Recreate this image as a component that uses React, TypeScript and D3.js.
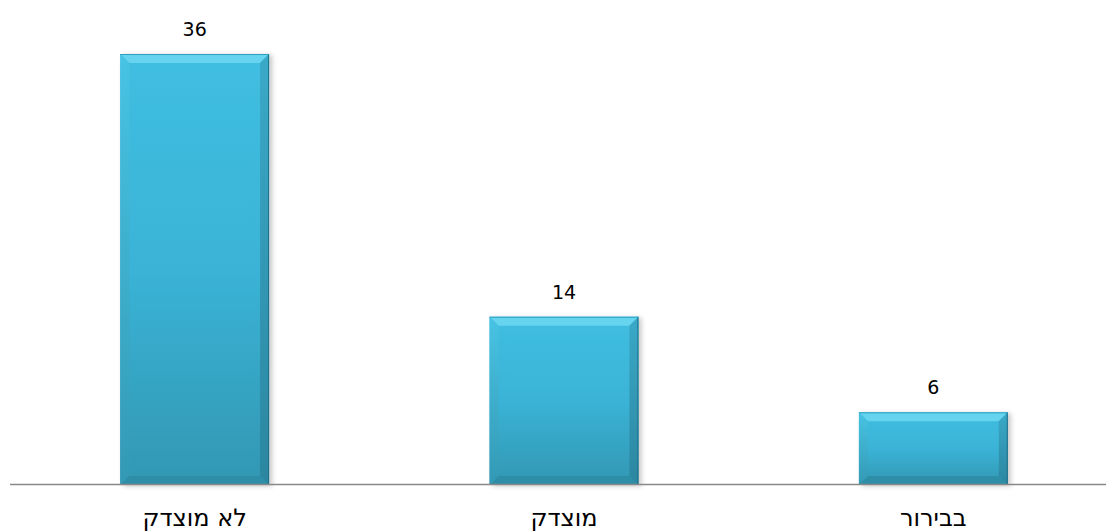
import React from "react";
import * as d3 from "d3";

const categories = ["לא מוצדק", "מוצדק", "בבירור"];
const values = [36, 14, 6];

const W = 1106;
const H = 532;

export default function App() {
  const x = d3.scaleBand<string>().domain(categories).range([10, 1118]).padding(0);
  const y = d3.scaleLinear().domain([0, 36]).range([484, 54]);
  const barW = x.bandwidth() * 0.403;
  const bev = 9;
  const font = "'DejaVu Sans', 'Liberation Sans', Arial, sans-serif";

  return (
    <svg width={W} height={H} style={{ position: "absolute", left: 0, top: 0, background: "#fff" }}>
      <defs>
        <linearGradient id="body" x1="0" y1="0" x2="0" y2="1">
          <stop offset="0" stopColor="#40bee1" />
          <stop offset="0.5" stopColor="#3ab3d6" />
          <stop offset="1" stopColor="#3297b3" />
        </linearGradient>
        <linearGradient id="leftB" x1="0" y1="0" x2="0" y2="1">
          <stop offset="0" stopColor="#48c3e4" />
          <stop offset="1" stopColor="#3399b4" />
        </linearGradient>
        <linearGradient id="rightB" x1="0" y1="0" x2="0" y2="1">
          <stop offset="0" stopColor="#3aa9c8" />
          <stop offset="1" stopColor="#2c86a0" />
        </linearGradient>
        <filter id="sh" x="-20%" y="-10%" width="140%" height="120%">
          <feDropShadow dx="3" dy="1" stdDeviation="2.5" floodColor="#000" floodOpacity="0.22" />
        </filter>
      </defs>
      {categories.map((c, i) => {
        const cx = (x(c) as number) + x.bandwidth() / 2;
        const x0 = cx - barW / 2;
        const x1 = cx + barW / 2;
        const y0 = y(values[i]);
        const y1 = y(0) + 1;
        return (
          <g key={c}>
            <rect x={x0} y={y0} width={barW} height={y1 - y0} fill="url(#body)" filter="url(#sh)" />
            <polygon points={`${x0},${y0} ${x1},${y0} ${x1 - bev},${y0 + bev} ${x0 + bev},${y0 + bev}`} fill="#66d3ef" />
            <polygon points={`${x0},${y0} ${x0 + bev},${y0 + bev} ${x0 + bev},${y1 - bev} ${x0},${y1}`} fill="url(#leftB)" />
            <polygon points={`${x1},${y0} ${x1 - bev},${y0 + bev} ${x1 - bev},${y1 - bev} ${x1},${y1}`} fill="url(#rightB)" />
            <polygon points={`${x0},${y1} ${x0 + bev},${y1 - bev} ${x1 - bev},${y1 - bev} ${x1},${y1}`} fill="#2e8ea8" />
            <line x1={x1 - 0.5} x2={x1 - 0.5} y1={y0} y2={y1} stroke="#206f86" strokeWidth={1} />
            <line x1={x0} x2={x1} y1={y0 + 0.5} y2={y0 + 0.5} stroke="#2e9fbf" strokeWidth={1} />
            <text x={cx} y={y0 - 18} textAnchor="middle" fontFamily={font} fontSize={19} fill="#000">
              {values[i]}
            </text>
            <text x={cx} y={526} textAnchor="middle" fontFamily={font} fontSize={24} fill="#000" direction="rtl">
              {c}
            </text>
          </g>
        );
      })}
      <line x1={10} x2={W} y1={484.5} y2={484.5} stroke="#888" strokeWidth={1.5} />
    </svg>
  );
}
